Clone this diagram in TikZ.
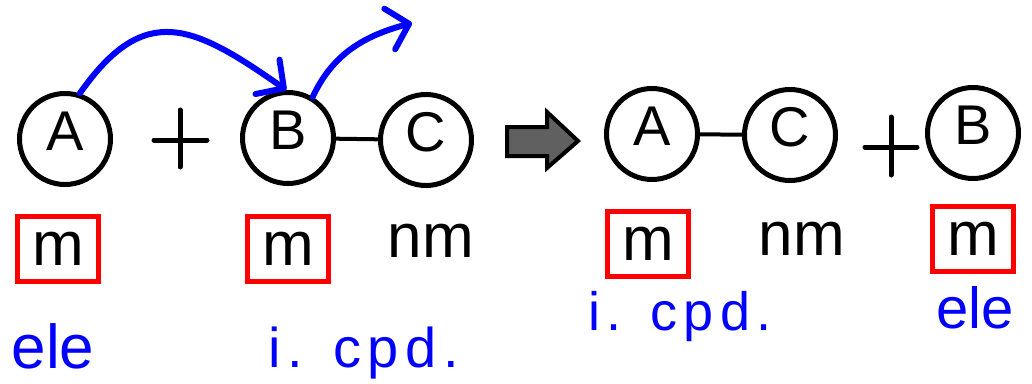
\documentclass[tikz,border=0pt]{standalone}
\usepackage{fontspec}
\setmainfont{Liberation Sans}
\usetikzlibrary{arrows.meta}
\definecolor{hand}{RGB}{0,0,255}
\definecolor{boxred}{RGB}{255,0,0}
\definecolor{arrowgray}{RGB}{96,96,96}
\begin{document}
\begin{tikzpicture}[x=1pt,y=-1pt,
  ball/.style={circle,draw,line width=5pt,minimum size=91pt,inner sep=0pt,
    font=\fontsize{56}{56}\selectfont,text depth=16pt},
  mbox/.style={draw=boxred,line width=5pt,minimum width=81pt,minimum height=65pt,
    inner sep=0pt,font=\fontsize{62}{62}\selectfont},
  lbl/.style={font=\fontsize{62}{62}\selectfont,inner sep=0pt},
  hw/.style={text=hand,inner sep=0pt,anchor=base},
  bond/.style={line width=4pt},
  plusmark/.style={line width=5pt,line cap=round},
  curly/.style={draw=hand,line width=6pt,line cap=round,
    -{Straight Barb[length=20pt,width=42pt,round]}},
  bigarrow/.style={draw=black,line width=4pt,fill=arrowgray,line join=miter}]
\useasboundingbox (0,0) rectangle (1032,383);

% left side
\node[ball] (A1) at (65,139) {A};
\node[ball] (B1) at (288,138) {B};
\node[ball] (C1) at (426,140) {C};
\draw[bond] (B1) -- (C1);
\draw[plusmark] (154,140) -- (207,140);
\draw[plusmark] (180,110) -- (180,167);

% transfer arrows
\coordinate (tipB) at (412,23);
\draw[curly] (A1.72) to[out=55,in=145,looseness=1.4] (B1.92);
\draw[curly] (B1.59) to[out=65,in=195] (tipB);

% reaction arrow
\draw[bigarrow] (507,127) -- (547,127) -- (547,112) -- (578,141) -- (547,168)
  -- (547,156) -- (507,156) -- cycle;

% right side
\node[ball] (A2) at (652,134) {A};
\node[ball] (C2) at (790,135) {C};
\node[ball] (B2) at (973,133) {B};
\draw[bond] (A2) -- (C2);
\draw[plusmark] (865,147) -- (917,147);
\draw[plusmark] (891,117) -- (891,175);

% labels
\node[mbox] (m1) at (58,249) {m};
\node[mbox] (m2) at (288,249) {m};
\node[lbl] (nm1) at (431,241) {nm};
\node[mbox] (m3) at (648,244) {m};
\node[lbl] (nm2) at (802,239) {nm};
\node[mbox] (m4) at (973,239) {m};

% handwritten notes
\node[hw,font=\fontsize{62}{62}\selectfont] (e1) at (53,368) {ele};
\node[hw,font=\fontsize{56}{56}\selectfont\addfontfeature{LetterSpace=12}] (c1) at (364,367) {i. cpd.};
\node[hw,font=\fontsize{54}{54}\selectfont\addfontfeature{LetterSpace=12}] (c2) at (680,330) {i. cpd.};
\node[hw,font=\fontsize{58}{58}\selectfont] (e2) at (975,328) {ele};
\end{tikzpicture}
\end{document}
